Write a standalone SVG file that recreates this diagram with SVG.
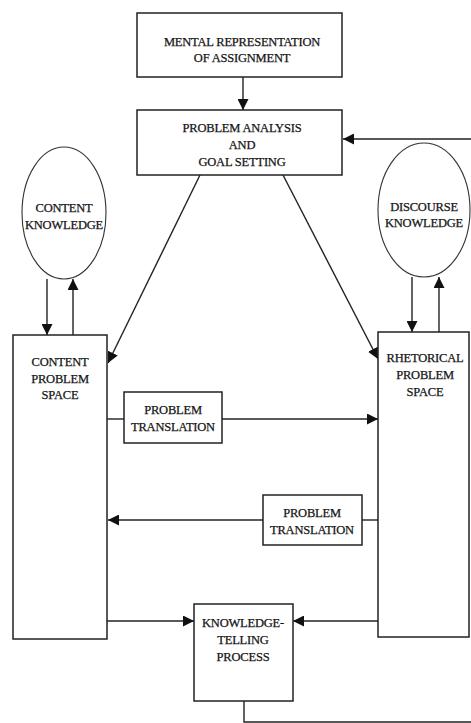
<svg xmlns="http://www.w3.org/2000/svg" width="471" height="723" viewBox="0 0 471 723">
<style>
.box{fill:#fff;stroke:#222;stroke-width:1.5}
.ell{fill:#fff;stroke:#333;stroke-width:1.1}
.ln{fill:none;stroke:#222;stroke-width:1.4}
text{font-family:"Liberation Serif","Times New Roman",serif;font-size:12.5px;fill:#151515;stroke:#151515;stroke-width:0.25;text-anchor:middle;letter-spacing:-0.2px}
</style>
<defs>
<marker id="ah" viewBox="0 0 10 10" refX="10" refY="5" markerWidth="11" markerHeight="11" markerUnits="userSpaceOnUse" orient="auto">
<path d="M0,0 L10,5 L0,10 Z" fill="#111"/>
</marker>
</defs>
<rect width="471" height="723" fill="#fff"/>
<g id="connectors">
<line class="ln" x1="243" y1="77" x2="243" y2="110" marker-end="url(#ah)"/>
<line class="ln" x1="200" y1="175" x2="108" y2="363" marker-end="url(#ah)"/>
<line class="ln" x1="283" y1="175" x2="378" y2="359" marker-end="url(#ah)"/>
<line class="ln" x1="47" y1="279" x2="47" y2="335" marker-end="url(#ah)"/>
<line class="ln" x1="73" y1="335" x2="73" y2="279" marker-end="url(#ah)"/>
<line class="ln" x1="412" y1="277" x2="412" y2="332" marker-end="url(#ah)"/>
<line class="ln" x1="439" y1="332" x2="439" y2="277" marker-end="url(#ah)"/>
<line class="ln" x1="107" y1="419" x2="124" y2="419"/>
<line class="ln" x1="222" y1="419" x2="378" y2="419" marker-end="url(#ah)"/>
<line class="ln" x1="378" y1="520" x2="362" y2="520"/>
<line class="ln" x1="263" y1="520" x2="108" y2="520" marker-end="url(#ah)"/>
<line class="ln" x1="107" y1="621" x2="194" y2="621" marker-end="url(#ah)"/>
<line class="ln" x1="379" y1="621" x2="293" y2="621" marker-end="url(#ah)"/>
<path class="ln" d="M244,701 V722 H480 V139 H343" marker-end="url(#ah)"/>
</g>
<g id="mental">
<rect class="box" x="137" y="13" width="205" height="64"/>
<text x="242" y="46">MENTAL REPRESENTATION</text>
<text x="242" y="62">OF ASSIGNMENT</text>
</g>
<g id="analysis">
<rect class="box" x="137" y="110" width="205" height="65"/>
<text x="242" y="132">PROBLEM ANALYSIS</text>
<text x="242" y="149">AND</text>
<text x="242" y="166">GOAL SETTING</text>
</g>
<g id="content-knowledge">
<ellipse class="ell" cx="64" cy="213" rx="42" ry="66"/>
<text x="64" y="212">CONTENT</text>
<text x="64" y="229">KNOWLEDGE</text>
</g>
<g id="discourse-knowledge">
<ellipse class="ell" cx="424" cy="210" rx="46" ry="67"/>
<text x="424" y="211">DISCOURSE</text>
<text x="424" y="227">KNOWLEDGE</text>
</g>
<g id="content-space">
<rect class="box" x="13" y="335" width="94" height="304"/>
<text x="60" y="366">CONTENT</text>
<text x="60" y="383">PROBLEM</text>
<text x="60" y="399">SPACE</text>
</g>
<g id="rhetorical-space">
<rect class="box" x="378" y="332" width="91" height="305"/>
<text x="425" y="362">RHETORICAL</text>
<text x="425" y="379">PROBLEM</text>
<text x="425" y="396">SPACE</text>
</g>
<g id="translation1">
<rect class="box" x="124" y="392" width="98" height="51"/>
<text x="173" y="414">PROBLEM</text>
<text x="173" y="431">TRANSLATION</text>
</g>
<g id="translation2">
<rect class="box" x="263" y="495" width="99" height="50"/>
<text x="312" y="517">PROBLEM</text>
<text x="312" y="534">TRANSLATION</text>
</g>
<g id="knowledge-telling">
<rect class="box" x="194" y="604" width="99" height="97"/>
<text x="243" y="627">KNOWLEDGE-</text>
<text x="243" y="644">TELLING</text>
<text x="243" y="661">PROCESS</text>
</g>
</svg>
